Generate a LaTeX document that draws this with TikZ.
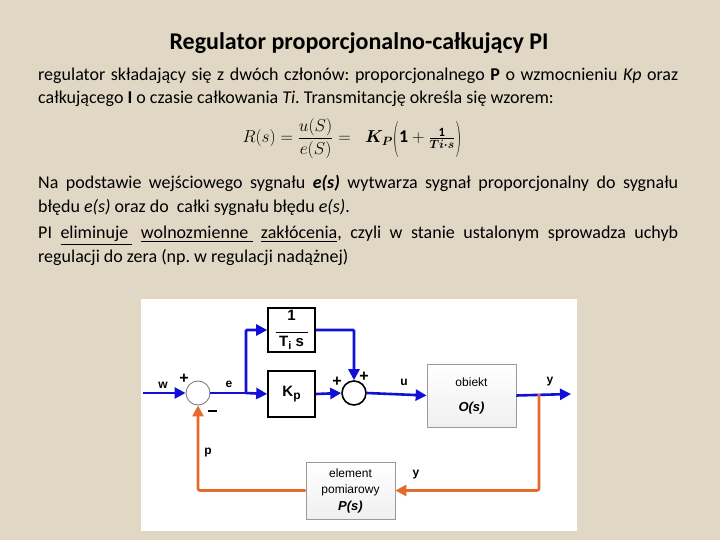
\documentclass[tikz,border=0pt]{standalone}
\usepackage{amsmath,bm,graphicx}
\usepackage{fontspec}
\setmainfont{Carlito}
\newfontfamily\arialf{Liberation Sans}
\usetikzlibrary{arrows.meta}
\definecolor{bgc}{RGB}{224,216,197}
\definecolor{blu}{RGB}{16,16,215}
\definecolor{ora}{RGB}{230,105,45}
\frenchspacing
\newcommand{\tallL}{\mathopen{\raisebox{-5.5pt}{\scalebox{1}[2.1]{$($}}}}
\newcommand{\tallR}{\mathclose{\raisebox{-5.5pt}{\scalebox{1}[2.1]{$)$}}}}
\tikzset{
  blk/.style={draw=black,line width=1.6pt,fill=white,minimum width=47pt,inner sep=0pt,font=\arialf\bfseries\fontsize{15}{16}\selectfont},
  gbox/.style={draw=gray!80,line width=0.7pt,top color=white,bottom color=gray!12,inner sep=0pt,font=\arialf\fontsize{12}{15}\selectfont,align=center},
  bw/.style={blu,line width=2.6pt,-{Triangle[length=11pt,width=11pt]}},
  bl/.style={blu,line width=2.6pt},
  ow/.style={ora,line width=2.6pt,-{Triangle[length=11pt,width=11pt]}},
  lab/.style={font=\arialf\bfseries\fontsize{12}{12}\selectfont,inner sep=0pt},
  sgn/.style={font=\arialf\bfseries\fontsize{16}{16}\selectfont,inner sep=0pt},
  txt/.style={anchor=base west,inner sep=0pt,font=\fontsize{18}{21}\selectfont},
}
\begin{document}
\begin{tikzpicture}[x=1pt,y=-1pt]
\useasboundingbox (0,0) rectangle (720,540);
\fill[bgc] (0,0) rectangle (720,540);
\node[inner sep=0pt,font=\bfseries\fontsize{24}{28}\selectfont] (title) at (359,43) {Regulator proporcjonalno-całkujący PI};
\node[txt] (l1) at (38,81) {\makebox[640pt][s]{regulator składający się z dwóch członów: proporcjonalnego \textbf{P} o wzmocnieniu \textit{Kp} oraz}};
\node[txt] (l2) at (38,104) {całkującego \textbf{I} o czasie całkowania \textit{Ti}. Transmitancję określa się wzorem:};
\node[inner sep=0pt,font=\fontsize{18}{21}\selectfont] (frm) at (352,140) {\rule[-14pt]{0pt}{34pt}\smash{$R(s)=\dfrac{u(S)}{e(S)}=\;\;\bm{K_P}\tallL\mathbf{1}+\frac{\mathbf{1}}{\bm{Ti\cdot s}}\tallR$}};
\node[txt] (l3) at (38,189) {\makebox[640pt][s]{Na podstawie wejściowego sygnału \textbf{\textit{e(s)}} wytwarza sygnał proporcjonalny do sygnału}};
\node[txt] (l4) at (38,212) {błędu \textit{e(s)} oraz do\ \ całki sygnału błędu \textit{e(s)}.};
\node[txt] (l5) at (38,239) {\makebox[640pt][s]{PI \underline{eliminuje\ } \underline{wolnozmienne\ } \underline{zakłócenia}, czyli w stanie ustalonym sprowadza uchyb}};
\node[txt] (l6) at (38,262) {regulacji do zera (np. w regulacji nadążnej)};
% panel
\fill[white] (141,299) rectangle (577,531);
% blocks
\node[circle,draw=gray,line width=0.9pt,fill=white,minimum size=24pt,inner sep=0pt] (s1) at (198,393) {};
\node[circle,draw=black,line width=1.6pt,fill=white,minimum size=24pt,inner sep=0pt] (s2) at (354,393) {};
\node[blk,minimum height=44pt,align=center] (ti) at (291.5,330) {1\\[-4pt]\rule{32pt}{0.8pt}\\[-2pt]T\raisebox{-3pt}{\fontsize{11}{11}\selectfont i} s};
\node[blk,minimum height=46pt] (kp) at (291.5,394) {K\raisebox{-3pt}{\fontsize{12}{12}\selectfont p}};
\node[gbox,minimum width=89pt,minimum height=63pt] (obj) at (471.5,395.5) {obiekt\\[10pt]{\bfseries\itshape\fontsize{13}{15}\selectfont O(s)}};
\node[gbox,minimum width=89pt,minimum height=57pt,font=\arialf\fontsize{12}{16.5}\selectfont] (pm) at (350.5,490.5) {element\\pomiarowy\\{\bfseries\itshape\fontsize{13}{15}\selectfont P(s)}};
% coordinates
\coordinate (win) at (143,393);
\coordinate (br) at (246,393);
\coordinate (yout) at (571,394);
\coordinate (ybr) at (539,394);
% connectors
\draw[bw] (win) -- (s1.west);
\draw[bl] (s1.east) -- (br);
\draw[bw] (br) -- (kp.west);
\draw[bw,rounded corners=1pt] (br) |- (ti.west);
\draw[bw,rounded corners=1pt] (ti.east) -| (s2.north);
\draw[bw] (kp.east) -- (s2.west);
\draw[bw] (s2.east) -- (obj.west);
\draw[bw] (obj.east) -- (yout);
\draw[ow,rounded corners=2pt] (ybr) |- (pm.east);
\draw[ow,rounded corners=2pt] (pm.west) -| (s1.south);
% labels
\node[lab] (lw) at (163,385) {w};
\node[lab] (le) at (229,384) {e};
\node[lab] (lu) at (404,382) {u};
\node[lab] (ly1) at (550,382) {y};
\node[lab] (ly2) at (416,475) {y};
\node[lab] (lp) at (208,453) {p};
\node[sgn] (pl1) at (184,379) {+};
\node[sgn] (mi1) at (212,411) {\rule{9pt}{2.6pt}};
\node[sgn] (pl2) at (337,382) {+};
\node[sgn] (pl3) at (364,377) {+};
\end{tikzpicture}
\end{document}
